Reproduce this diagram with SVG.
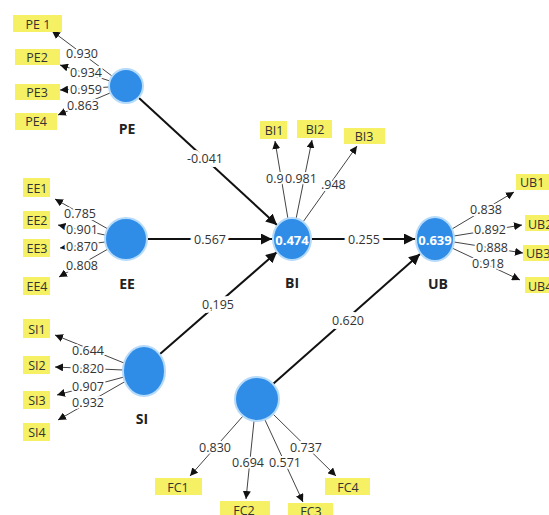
<svg xmlns="http://www.w3.org/2000/svg" width="549" height="515" viewBox="0 0 549 515">
<defs>
<marker id="ahS" viewBox="0 0 10 10" refX="10" refY="5" markerWidth="8" markerHeight="8" orient="auto" markerUnits="userSpaceOnUse"><path d="M0,0 L10,5 L0,10 z" fill="#111"/></marker>
<marker id="ahL" viewBox="0 0 10 10" refX="10" refY="5" markerWidth="11" markerHeight="11" orient="auto" markerUnits="userSpaceOnUse"><path d="M0,0 L10,5 L0,10 z" fill="#111"/></marker>
</defs>
<style>
.ind{stroke:#444;stroke-width:1;fill:none;marker-end:url(#ahS)}
.path{stroke:#111;stroke-width:2;fill:none;marker-end:url(#ahL)}
.lv{fill:#2f8de8;stroke:#b5dafa;stroke-width:2}
.box{fill:#f5f064}
.bt{font-family:"Open Sans","Noto Sans",sans-serif;font-size:12.5px;fill:#333;text-anchor:middle;dominant-baseline:central}
.bl{font-family:"Open Sans","Noto Sans",sans-serif;font-size:12.5px;fill:#333;dominant-baseline:central}
.val{font-family:"Open Sans","Noto Sans",sans-serif;font-size:12.5px;fill:#333;text-anchor:middle;dominant-baseline:central;stroke:#fff;stroke-width:4;stroke-linejoin:round;paint-order:stroke}
.valp{font-family:"Open Sans","Noto Sans",sans-serif;font-size:12.5px;fill:#333;text-anchor:middle;dominant-baseline:central;stroke:#fff;stroke-width:8;stroke-linejoin:round;paint-order:stroke}
.vs{font-family:"Open Sans","Noto Sans",sans-serif;font-size:12.5px;fill:#333;dominant-baseline:central;stroke:#fff;stroke-width:4;stroke-linejoin:round;paint-order:stroke}
.name{font-family:"Open Sans","Noto Sans",sans-serif;font-size:14px;font-weight:bold;fill:#222;text-anchor:middle;dominant-baseline:central}
.r2{font-family:"Open Sans","Noto Sans",sans-serif;font-size:13px;font-weight:bold;fill:#fff;text-anchor:middle;dominant-baseline:central}
</style>
<rect width="549" height="515" fill="#fff"/>
<g id="connectors">
<line class="ind" x1="112" y1="76" x2="52" y2="31"/>
<line class="ind" x1="110" y1="81" x2="60" y2="65"/>
<line class="ind" x1="109" y1="87" x2="60" y2="90"/>
<line class="ind" x1="110" y1="93" x2="58" y2="115"/>
<line class="ind" x1="108" y1="229" x2="55" y2="199"/>
<line class="ind" x1="105" y1="235" x2="58" y2="225"/>
<line class="ind" x1="105" y1="242" x2="60" y2="248"/>
<line class="ind" x1="108" y1="249" x2="59" y2="277"/>
<line class="ind" x1="124" y1="363" x2="55" y2="335"/>
<line class="ind" x1="123" y1="370" x2="55" y2="367"/>
<line class="ind" x1="124" y1="377" x2="57" y2="395"/>
<line class="ind" x1="126" y1="381" x2="58" y2="420"/>
<line class="ind" x1="288" y1="219" x2="275" y2="141"/>
<line class="ind" x1="296" y1="219" x2="312" y2="140"/>
<line class="ind" x1="303" y1="222" x2="357" y2="146"/>
<line class="ind" x1="452" y1="229" x2="514" y2="192"/>
<line class="ind" x1="454" y1="236" x2="522" y2="225"/>
<line class="ind" x1="454" y1="242" x2="523" y2="253"/>
<line class="ind" x1="452" y1="248" x2="520" y2="280"/>
<line class="ind" x1="243" y1="416" x2="190" y2="476"/>
<line class="ind" x1="254" y1="421" x2="246" y2="499"/>
<line class="ind" x1="265" y1="420" x2="303" y2="502"/>
<line class="ind" x1="273" y1="414" x2="336" y2="476"/>
<line class="path" x1="139" y1="98" x2="277" y2="225"/>
<line class="path" x1="148" y1="239" x2="272" y2="239"/>
<line class="path" x1="160" y1="354" x2="277" y2="252"/>
<line class="path" x1="312" y1="239" x2="415" y2="239"/>
<line class="path" x1="273" y1="384" x2="420" y2="254"/>
</g>
<g id="PE"><circle class="lv" cx="126" cy="86" r="17"/><text class="name" x="127" y="128">PE</text></g>
<g id="EE"><circle class="lv" cx="126" cy="239" r="21"/><text class="name" x="127" y="283">EE</text></g>
<g id="SI"><ellipse class="lv" cx="144" cy="371" rx="21" ry="25"/><text class="name" x="142" y="418">SI</text></g>
<g id="BI"><ellipse class="lv" cx="292" cy="239" rx="19" ry="21"/><text class="r2" x="292" y="240">0.474</text><text class="name" x="292" y="282">BI</text></g>
<g id="UB"><ellipse class="lv" cx="435" cy="239" rx="19" ry="22"/><text class="r2" x="435" y="240">0.639</text><text class="name" x="438" y="283">UB</text></g>
<g id="FC"><circle class="lv" cx="257" cy="399" r="22"/></g>
<g id="PE1"><rect class="box" x="13" y="15" width="49" height="17"/><text class="bt" x="38" y="24">PE 1</text></g>
<g id="PE2"><rect class="box" x="15" y="49" width="45" height="16"/><text class="bt" x="37" y="57">PE2</text></g>
<g id="PE3"><rect class="box" x="15" y="84" width="45" height="16"/><text class="bt" x="37" y="92">PE3</text></g>
<g id="PE4"><rect class="box" x="15" y="113" width="42" height="17"/><text class="bt" x="36" y="121">PE4</text></g>
<g id="EE1"><rect class="box" x="23" y="178" width="27" height="19"/><text class="bt" x="37" y="188">EE1</text></g>
<g id="EE2"><rect class="box" x="23" y="211" width="27" height="18"/><text class="bt" x="37" y="220">EE2</text></g>
<g id="EE3"><rect class="box" x="23" y="239" width="27" height="18"/><text class="bt" x="37" y="248">EE3</text></g>
<g id="EE4"><rect class="box" x="23" y="277" width="27" height="18"/><text class="bt" x="37" y="286">EE4</text></g>
<g id="SI1"><rect class="box" x="23" y="319" width="27" height="19"/><text class="bt" x="37" y="329">SI1</text></g>
<g id="SI2"><rect class="box" x="23" y="356" width="27" height="18"/><text class="bt" x="37" y="365">SI2</text></g>
<g id="SI3"><rect class="box" x="23" y="391" width="27" height="18"/><text class="bt" x="37" y="400">SI3</text></g>
<g id="SI4"><rect class="box" x="23" y="423" width="27" height="18"/><text class="bt" x="37" y="432">SI4</text></g>
<g id="BI1"><rect class="box" x="260" y="121" width="27" height="18"/><text class="bt" x="274" y="130">BI1</text></g>
<g id="BI2"><rect class="box" x="297" y="120" width="35" height="18"/><text class="bt" x="315" y="129">BI2</text></g>
<g id="BI3"><rect class="box" x="344" y="128" width="41" height="16"/><text class="bt" x="364" y="136">BI3</text></g>
<g id="UB1"><rect class="box" x="516" y="174" width="40" height="16"/><text class="bl" x="520" y="182">UB1</text></g>
<g id="UB2"><rect class="box" x="525" y="215" width="30" height="16"/><text class="bl" x="528" y="224">UB2</text></g>
<g id="UB3"><rect class="box" x="523" y="245" width="30" height="16"/><text class="bl" x="526" y="253">UB3</text></g>
<g id="UB4"><rect class="box" x="525" y="277" width="30" height="16"/><text class="bl" x="528" y="286">UB4</text></g>
<g id="FC1"><rect class="box" x="155" y="478" width="47" height="17"/><text class="bt" x="178" y="487">FC1</text></g>
<g id="FC2"><rect class="box" x="220" y="501" width="50" height="17"/><text class="bt" x="244" y="510">FC2</text></g>
<g id="FC3"><rect class="box" x="288" y="503" width="45" height="15"/><text class="bt" x="311" y="511">FC3</text></g>
<g id="FC4"><rect class="box" x="325" y="478" width="45" height="17"/><text class="bt" x="348" y="487">FC4</text></g>
<g id="connector-labels">
<text class="val" x="82" y="53">0.930</text>
<text class="val" x="86" y="72">0.934</text>
<text class="val" x="86" y="89">0.959</text>
<text class="val" x="83" y="105">0.863</text>
<text class="val" x="80" y="213">0.785</text>
<text class="val" x="82" y="229">0.901</text>
<text class="val" x="82" y="246">0.870</text>
<text class="val" x="82" y="265">0.808</text>
<text class="val" x="88" y="350">0.644</text>
<text class="val" x="88" y="368">0.820</text>
<text class="val" x="88" y="386">0.907</text>
<text class="val" x="88" y="402">0.932</text>
<text class="vs" x="266" y="178">0.9</text>
<text class="vs" x="285" y="178">0.981</text>
<text class="vs" x="321" y="184">.948</text>
<text class="val" x="486" y="209">0.838</text>
<text class="val" x="490" y="229">0.892</text>
<text class="val" x="492" y="247">0.888</text>
<text class="val" x="488" y="263">0.918</text>
<text class="val" x="215" y="447">0.830</text>
<text class="val" x="248" y="462">0.694</text>
<text class="val" x="285" y="462">0.571</text>
<text class="val" x="306" y="447">0.737</text>
<text class="valp" x="205" y="158">-0.041</text>
<text class="valp" x="210" y="239">0.567</text>
<text class="valp" x="218" y="304">0.195</text>
<text class="valp" x="364" y="239">0.255</text>
<text class="valp" x="348" y="320">0.620</text>
</g>
</svg>
